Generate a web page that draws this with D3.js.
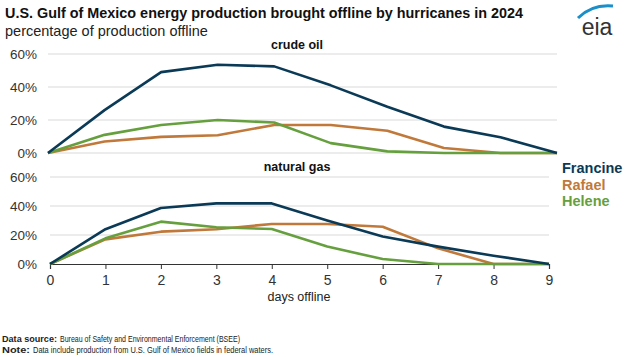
<!DOCTYPE html>
<html><head><meta charset="utf-8">
<script src="https://cdn.jsdelivr.net/npm/d3@7"></script>
<style>body{margin:0;background:#fff}svg{display:block;font-family:"Liberation Sans",Arial,sans-serif}</style>
</head><body><svg id="c" width="625" height="357"></svg>
<script>
const days = [0,1,2,3,4,5,6,7,8,9];
const yTicks = [0,20,40,60];
const seriesNames = ["Francine","Rafael","Helene"];
const colors = ["#0b3a57","#c0793a","#66a03e"];
const crudeFrancine = [0,26,49,53.5,52.5,41,28,16,9.5,0];
const crudeRafael   = [0,7,9.8,10.8,17,17,13.5,3,0,0];
const crudeHelene   = [0,11,17,20,18.5,6,1,0,0,0];
const gasFrancine = [0,24,38.6,41.8,41.8,30,19,12,5.7,0];
const gasRafael   = [0,17,22.3,24,27.6,27.6,25.7,10.8,0,0];
const gasHelene   = [0,17.7,29.2,25.3,24.1,12,3.4,0,0,0];

const svg = d3.select("#c");
const panels = [
  {title:"crude oil", data:[crudeFrancine,crudeRafael,crudeHelene], x:[48,557], y:[153,54], ty:49, axis:false},
  {title:"natural gas", data:[gasFrancine,gasRafael,gasHelene], x:[50,549], y:[264,177], ty:171, axis:true}
];
panels.forEach(p=>{
  const x = d3.scaleLinear().domain([0,9]).range(p.x);
  const y = d3.scaleLinear().domain([0,60]).range(p.y);
  const g = svg.append("g");
  g.selectAll(".grid").data(yTicks.filter(t=>!(p.axis&&t===0))).join("line")
    .attr("x1",p.x[0]).attr("x2",p.x[1]).attr("y1",d=>y(d)).attr("y2",d=>y(d))
    .attr("stroke","#d9d9d9").attr("stroke-width",1);
  g.selectAll(".yl").data(yTicks).join("text")
    .attr("x",37).attr("y",d=>y(d)+5).attr("text-anchor","end")
    .attr("font-size",13.5).attr("fill","#333").text(d=>d+"%");
  g.append("text").attr("x",297).attr("y",p.ty).attr("text-anchor","middle")
    .attr("font-size",12.5).attr("font-weight","bold").attr("fill","#111").text(p.title);
  if(p.axis){
    const ax = g.append("g").attr("transform",`translate(0,${y(0)})`)
      .call(d3.axisBottom(x).tickValues(days).tickSize(5).tickFormat(d3.format("d")));
    ax.select(".domain").attr("stroke","#333").attr("stroke-width",1.2);
    ax.selectAll(".tick line").attr("stroke","#333");
    ax.selectAll("text").attr("font-size",14).attr("fill","#333").attr("dy","0.95em")
      .attr("font-family","'Liberation Sans',Arial,sans-serif");
  }
  const line = d3.line().x((d,i)=>x(days[i])).y(d=>y(d));
  [1,2,0].forEach(k=>{
    g.append("path").attr("d",line(p.data[k])).attr("fill","none")
      .attr("stroke",colors[k]).attr("stroke-width",2.6).attr("stroke-linejoin","round");
  });
});
svg.append("text").attr("x",299).attr("y",301).attr("text-anchor","middle")
  .attr("font-size",12.5).attr("fill","#222").text("days offline");
seriesNames.forEach((n,i)=>{
  svg.append("text").attr("x",562).attr("y",173+i*16.5).attr("font-size",14.5)
    .attr("font-weight","bold").attr("fill",colors[i]).text(n);
});
svg.append("text").attr("x",5).attr("y",18).attr("font-size",14.4).attr("font-weight","bold")
  .attr("fill","#111").text("U.S. Gulf of Mexico energy production brought offline by hurricanes in 2024");
svg.append("text").attr("x",5).attr("y",36).attr("font-size",14.5).attr("fill","#222")
  .text("percentage of production offline");
// eia logo
const lg = svg.append("g");
lg.append("path").attr("d","M578,18 Q592,4 613,6").attr("fill","none").attr("stroke","#1a8fc9").attr("stroke-width",3);
lg.append("text").attr("x",597).attr("y",35).attr("text-anchor","middle").attr("font-size",23)
  .attr("fill","#333").attr("font-family","'Liberation Sans',Arial,sans-serif").text("eia");
const f = svg.append("g").attr("font-family","'Liberation Sans',Arial,sans-serif").attr("font-size",9).attr("fill","#222");
f.append("text").attr("x",2).attr("y",342).attr("font-weight","bold")
  .attr("textLength",55).attr("lengthAdjust","spacingAndGlyphs").text("Data source:");
f.append("text").attr("x",60).attr("y",342)
  .attr("textLength",180).attr("lengthAdjust","spacingAndGlyphs").text("Bureau of Safety and Environmental Enforcement (BSEE)");
f.append("text").attr("x",2).attr("y",353).attr("font-weight","bold")
  .attr("textLength",28).attr("lengthAdjust","spacingAndGlyphs").text("Note:");
f.append("text").attr("x",33).attr("y",353)
  .attr("textLength",240).attr("lengthAdjust","spacingAndGlyphs").text("Data include production from U.S. Gulf of Mexico fields in federal waters.");
</script></body></html>
